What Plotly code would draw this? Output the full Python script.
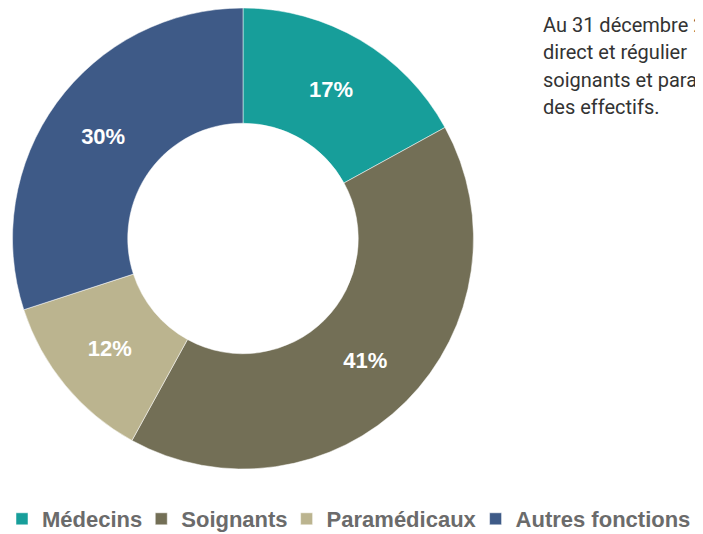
import plotly.graph_objects as go

categories = ["Médecins", "Soignants", "Paramédicaux", "Autres fonctions"]
values = [17, 41, 12, 30]
colors = ["#179e9a", "#736f56", "#bbb48f", "#3e5a87"]
note_lines = ["Au 31 décembre 2", "direct et régulier", "soignants et para", "des effectifs."]

# the page body adds an 8px margin, so the figure is 8px smaller on each axis
W, H = 695, 526

fig = go.Figure(go.Pie(
    labels=categories,
    values=values,
    hole=0.5,
    sort=False,
    direction="clockwise",
    rotation=0,
    marker=dict(colors=colors, line=dict(color="white", width=0.5)),
    textinfo="percent",
    textposition="inside",
    insidetextorientation="horizontal",
    textfont=dict(family="Liberation Sans", size=22, color="white", weight="bold"),
    domain=dict(x=[4 / W, 466 / W], y=[(H - 461) / H, 1]),
    showlegend=True,
))

line_top = 17.0
line_step = 27.3
for i, line in enumerate(note_lines):
    fig.add_annotation(
        text=line,
        xref="paper", yref="paper",
        x=533 / W, y=1 - (line_top + i * line_step) / H,
        xanchor="left", yanchor="middle",
        align="left",
        showarrow=False,
        font=dict(family="Roboto", size=20, color="#333333"),
    )

fig.update_layout(
    width=W, height=H,
    margin=dict(l=0, r=0, t=0, b=0, autoexpand=False),
    paper_bgcolor="white",
    plot_bgcolor="white",
    legend=dict(
        orientation="h",
        xref="paper", yref="paper",
        x=0, xanchor="left",
        y=15 / H, yanchor="middle",
        indentation=-6,
        font=dict(family="Liberation Sans", size=22, color="#6b6b6b", weight="bold"),
        itemclick=False,
    ),
)

fig.write_html("out.html")
